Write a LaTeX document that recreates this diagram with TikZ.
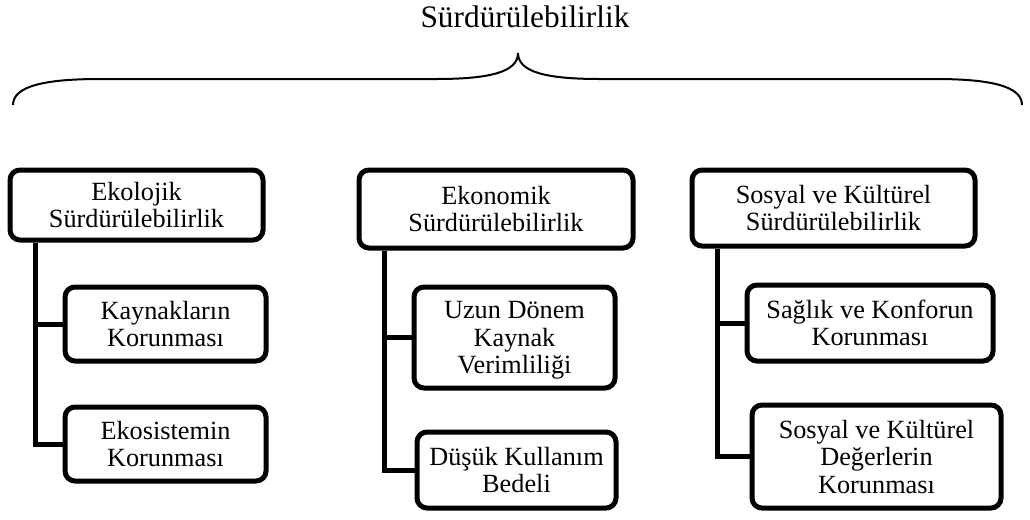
\documentclass[tikz,border=0pt]{standalone}
\usepackage{fontspec}
\setmainfont{Liberation Serif}
\begin{document}
\begin{tikzpicture}[x=0.75pt,y=-0.75pt,
  box/.style={draw, line width=3.75pt, rounded corners=7.5pt, align=center,
    inner sep=0pt, text depth=0pt, font=\fontsize{19.7}{20.6}\selectfont},
  sz/.style 2 args={minimum width=#1*0.75pt, minimum height=#2*0.75pt},
  link/.style={line width=3.75pt},
  brace/.style={line width=1.5pt}]
\useasboundingbox (0,0) rectangle (1030,519);

% title and brace
\node[anchor=base, font=\fontsize{23.5}{28}\selectfont] (title) at (525,27) {Sürdürülebilirlik};
\coordinate (bl) at (13,105);
\coordinate (tip) at (518,53);
\coordinate (br) at (1022,105);
\draw[brace] (bl) .. controls (13,86) and (45,79) .. (100,79) -- (436,79)
  .. controls (490,79) and (518,72) .. (tip)
  .. controls (518,72) and (546,79) .. (600,79) -- (935,79)
  .. controls (990,79) and (1022,86) .. (br);

% ecological column
\node[box, sz={253}{70}] (e1) at (136.5,205) {Ekolojik\\Sürdürülebilirlik};
\node[box, sz={201}{74}] (e1a) at (165.5,324) {Kaynakların\\Korunması};
\node[box, sz={201}{74}] (e1b) at (165.5,444) {Ekosistemin\\Korunması};
\draw[link] ([xshift=21pt]e1.south west) |- (e1a.west);
\draw[link] ([xshift=21pt]e1.south west) |- (e1b.west);

% economic column
\node[box, sz={274}{78}] (e2) at (496,209) {Ekonomik\\Sürdürülebilirlik};
\node[box, sz={201}{101}] (e2a) at (514.5,337.5) {Uzun Dönem\\Kaynak\\Verimliliği};
\node[box, sz={199}{76}] (e2b) at (516.5,470) {Düşük Kullanım\\Bedeli};
\draw[link] ([xshift=21pt]e2.south west) |- (e2a.west);
\draw[link] ([xshift=21pt]e2.south west) |- (e2b.west);

% social and cultural column
\node[box, sz={283}{76}] (e3) at (833.5,208) {Sosyal ve Kültürel\\Sürdürülebilirlik};
\node[box, sz={246}{76}] (e3a) at (870,323) {Sağlık ve Konforun\\Korunması};
\node[box, sz={249}{103}] (e3b) at (876.5,456.5) {Sosyal ve Kültürel\\Değerlerin\\Korunması};
\draw[link] ([xshift=21pt]e3.south west) |- (e3a.west);
\draw[link] ([xshift=21pt]e3.south west) |- (e3b.west);
\end{tikzpicture}
\end{document}
